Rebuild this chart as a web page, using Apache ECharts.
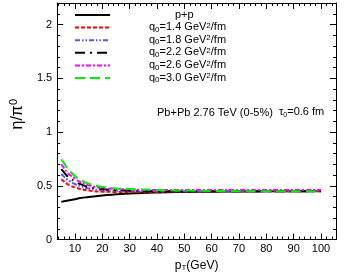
<!DOCTYPE html>
<html><head><meta charset="utf-8">
<script src="https://cdn.jsdelivr.net/npm/echarts@6/dist/echarts.min.js"></script>
<style>html,body{margin:0;padding:0;background:#fff}#c{width:346px;height:277px}</style>
</head><body><div id="c"></div>
<script>
const pT = [5,6,7,8,10,12,15,20,25,30,40,50,60,70,80,90,100];
const pp    = [0.350,0.355,0.360,0.365,0.375,0.385,0.395,0.410,0.420,0.428,0.437,0.442,0.445,0.447,0.448,0.449,0.450];
const q14   = [0.560,0.540,0.520,0.505,0.485,0.470,0.455,0.445,0.443,0.443,0.445,0.447,0.448,0.448,0.448,0.448,0.448];
const q18   = [0.610,0.585,0.560,0.545,0.515,0.495,0.475,0.460,0.455,0.452,0.450,0.450,0.450,0.450,0.450,0.450,0.450];
const q22   = [0.655,0.625,0.595,0.575,0.540,0.515,0.490,0.470,0.460,0.455,0.450,0.450,0.450,0.450,0.450,0.450,0.450];
const q26   = [0.700,0.665,0.630,0.605,0.565,0.535,0.505,0.480,0.470,0.465,0.460,0.460,0.460,0.460,0.460,0.460,0.460];
const q30   = [0.745,0.710,0.670,0.640,0.590,0.555,0.520,0.490,0.475,0.470,0.460,0.455,0.452,0.450,0.450,0.448,0.447];
const seriesNames = ['p+p','q0=1.4','q0=1.8','q0=2.2','q0=2.6','q0=3.0'];
const xMajor = [10,20,30,40,50,60,70,80,90,100];
const xMinor = [4,6,8,12,14,16,18,22,24,26,28,32,34,36,38,42,44,46,48,52,54,56,58,62,64,66,68,72,74,76,78,82,84,86,88,92,94,96,98,102,104];

const FONT = 'Liberation Sans';
const X_MIN = 3.5, X_MAX = 105.5;
const styles = [
  {color:'#000000', type:'solid'},
  {color:'#ff0000', type:[4,2]},
  {color:'#5555ee', type:[5,2,1.5,2,1.5,2]},
  {color:'#000000', type:[10,5,2,5]},
  {color:'#ff00ff', type:[5,2,2,2]},
  {color:'#00ee00', type:[10,5]}
];
const values = [pp,q14,q18,q22,q26,q30];

function xAxis(pos, custom, len, labels, line){
  return {type:'value', position:pos, min:X_MIN, max:X_MAX,
    axisLine:{show:line, onZero:false, lineStyle:{color:'#000', width:1}},
    axisTick:{show:true, inside:true, length:len, customValues:custom, lineStyle:{color:'#000'}},
    axisLabel:{show:labels, customValues:custom, margin:4, fontFamily:FONT, fontSize:11, color:'#000'},
    splitLine:{show:false}};
}
function yAxis(pos, labels){
  return {type:'value', position:pos, min:0, max:2.2, interval:0.5,
    axisLine:{show:true, onZero:false, lineStyle:{color:'#000', width:1}},
    axisTick:{show:true, inside:true, length:6, lineStyle:{color:'#000'}},
    minorTick:{show:true, splitNumber:5, length:3, lineStyle:{color:'#000'}},
    axisLabel:{show:labels, showMaxLabel:false, margin:5, fontFamily:FONT, fontSize:11, color:'#000'},
    splitLine:{show:false}};
}
const xs = [
  xAxis('bottom', xMajor, 6, true, true),
  xAxis('bottom', xMinor, 3, false, false),
  xAxis('top', xMajor, 6, false, true),
  xAxis('top', xMinor, 3, false, false)
];
xs[0].name = '{c|p}{s|T}{c|(GeV)}';
xs[0].nameLocation = 'middle';
xs[0].nameGap = 16;
xs[0].nameTextStyle = {fontFamily:FONT, rich:{
  c:{fontFamily:FONT,fontSize:12,lineHeight:12,verticalAlign:'top',color:'#000'},
  s:{fontFamily:FONT,fontSize:8,lineHeight:8,verticalAlign:'bottom',color:'#000'}}};
const ys = [yAxis('left', true), yAxis('right', false)];
ys[0].name = '{c|η/π}{p|0}';
ys[0].nameLocation = 'middle';
ys[0].nameRotate = 90;
ys[0].nameGap = 30;
ys[0].nameTextStyle = {fontFamily:FONT, padding:[0,0,0,14], rich:{
  c:{fontFamily:FONT,fontSize:16,lineHeight:18,verticalAlign:'bottom',color:'#000'},
  p:{fontFamily:FONT,fontSize:11,lineHeight:11,verticalAlign:'top',color:'#000'}}};

const richLegend = {
  c:{fontFamily:FONT,fontSize:11,lineHeight:11,verticalAlign:'top',color:'#000'},
  s:{fontFamily:FONT,fontSize:8,lineHeight:7,verticalAlign:'bottom',color:'#000'},
  p:{fontFamily:FONT,fontSize:8,lineHeight:8,verticalAlign:'top',color:'#000'},
  g1:{width:34},
  g2:{width:60}
};

const chart = echarts.init(document.getElementById('c'), null, {renderer:'canvas'});
chart.setOption({
  animation:false,
  backgroundColor:'#fff',
  grid:{left:45, right:10, top:3, bottom:37.5},
  xAxis: xs,
  yAxis: ys,
  title:{text:'Pb+Pb 2.76 TeV (0-5%)  {t|τ}{s|0}{c|=0.6 fm}', left:152, top:101,
    textStyle:{fontFamily:FONT,fontSize:11,fontWeight:'normal',color:'#000',lineHeight:13,
      rich:{t:{fontFamily:FONT,fontSize:11,lineHeight:11,verticalAlign:'top',color:'#000'},
            c:{fontFamily:FONT,fontSize:11,lineHeight:11,verticalAlign:'top',color:'#000'},
            s:{fontFamily:FONT,fontSize:7,lineHeight:7,verticalAlign:'bottom',color:'#000'}}}},
  legend:{orient:'vertical', left:69, top:4, itemWidth:35, itemHeight:10, itemGap:0.6,
    data:seriesNames,
    itemStyle:{color:'rgba(0,0,0,0)', borderWidth:0, opacity:0},
    formatter:function(n){
      if(n==='p+p') return '{g2| }{c|p+p}';
      const v = n.split('=')[1];
      return '{g1| }{c|q}{s|0}{c|='+v+' GeV}{p|2}{c|/fm}';
    },
    textStyle:{rich:richLegend}},
  series: seriesNames.map((n,i)=>({
    name:n, type:'line', xAxisIndex:0, yAxisIndex:0, symbol:'none', smooth:true,
    data: pT.map((x,j)=>[x, values[i][j]]),
    lineStyle:{color:styles[i].color, type:styles[i].type, width:2},
    itemStyle:{color:styles[i].color}
  }))
});
</script></body></html>
